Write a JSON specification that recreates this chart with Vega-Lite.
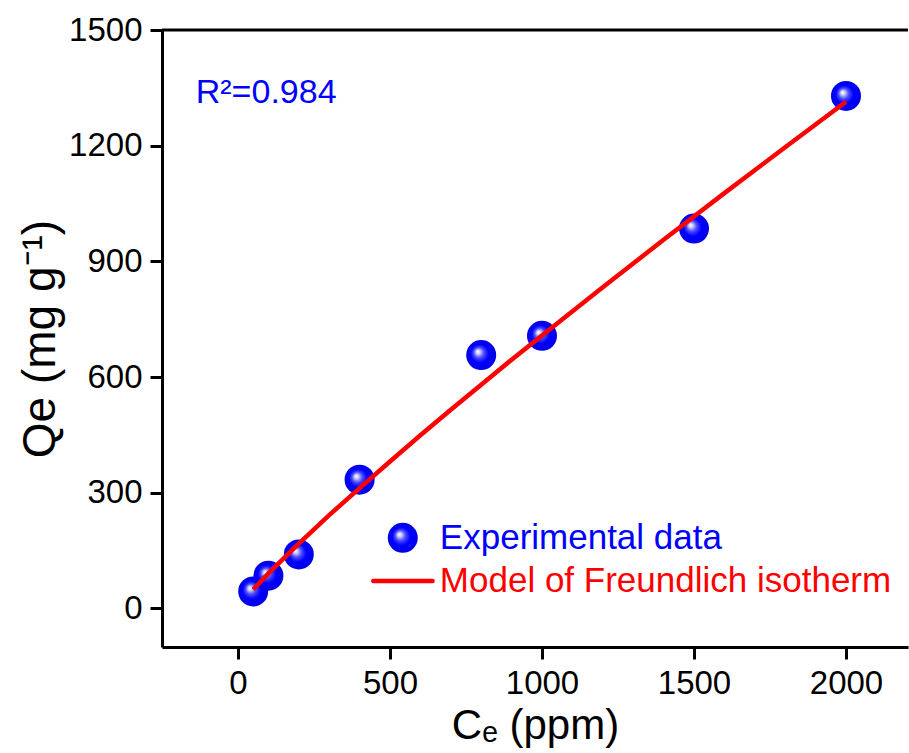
{
  "$schema": "https://vega.github.io/schema/vega-lite/v6.json",
  "autosize": {"type": "none"},
  "padding": {"left": 162, "top": 30, "right": 1, "bottom": 106},
  "width": 746,
  "height": 617,
  "background": "white",
  "config": {
    "view": {"stroke": null},
    "font": "Liberation Sans",
    "axis": {
      "domainColor": "black", "domainWidth": 3, "tickColor": "black", "tickWidth": 3, "tickSize": 12,
      "labelFont": "Liberation Sans", "labelFontSize": 33, "labelColor": "black",
      "titleFont": "Liberation Sans", "titleFontSize": 46, "titleFontWeight": "normal", "titleColor": "black",
      "grid": false
    }
  },
  "datasets": {
    "exp": [
      {"Ce": 50, "Qe": 44},
      {"Ce": 100, "Qe": 85},
      {"Ce": 200, "Qe": 140},
      {"Ce": 400, "Qe": 334},
      {"Ce": 800, "Qe": 657},
      {"Ce": 1000, "Qe": 707},
      {"Ce": 1500, "Qe": 985},
      {"Ce": 2000, "Qe": 1329}
    ],
    "model": [
      {"Ce": 50, "Qe": 49},
      {"Ce": 100, "Qe": 91},
      {"Ce": 200, "Qe": 168},
      {"Ce": 300, "Qe": 242},
      {"Ce": 400, "Qe": 312},
      {"Ce": 500, "Qe": 381},
      {"Ce": 600, "Qe": 449},
      {"Ce": 700, "Qe": 515},
      {"Ce": 800, "Qe": 580},
      {"Ce": 900, "Qe": 645},
      {"Ce": 1000, "Qe": 708},
      {"Ce": 1200, "Qe": 833},
      {"Ce": 1400, "Qe": 956},
      {"Ce": 1600, "Qe": 1077},
      {"Ce": 1800, "Qe": 1196},
      {"Ce": 2000, "Qe": 1314}
    ],
    "one": [{}]
  },
  "layer": [
    {
      "data": {"name": "exp"},
      "mark": {
        "type": "point", "filled": true, "size": 900, "opacity": 1, "strokeWidth": 0,
        "fill": {"gradient": "radial", "x1": 0.38, "y1": 0.38, "r1": 0, "x2": 0.5, "y2": 0.5, "r2": 0.5,
          "stops": [{"offset": 0, "color": "#ffffff"}, {"offset": 0.12, "color": "#d8d8ff"}, {"offset": 0.35, "color": "#4a4aff"}, {"offset": 0.6, "color": "#0000ff"}, {"offset": 1, "color": "#0000e8"}]}
      },
      "encoding": {
        "x": {"field": "Ce", "type": "quantitative",
          "scale": {"domain": [-250, 2204], "nice": false, "zero": false},
          "axis": {"values": [0, 500, 1000, 1500, 2000], "format": "d", "title": "Cₑ (ppm)", "titleFontSize": 42, "titleBaseline": "alphabetic", "titleY": 91, "labelPadding": 8}},
        "y": {"field": "Qe", "type": "quantitative",
          "scale": {"domain": [-100, 1500], "nice": false, "zero": false},
          "axis": {"values": [0, 300, 600, 900, 1200, 1500], "format": "d", "title": "Qe (mg g⁻¹)", "labelPadding": 8, "titlePadding": 4}}
      }
    },
    {
      "data": {"name": "model"},
      "mark": {"type": "line", "strokeWidth": 4.5, "color": "#ff0000"},
      "encoding": {
        "x": {"field": "Ce", "type": "quantitative"},
        "y": {"field": "Qe", "type": "quantitative"}
      }
    },
    {
      "data": {"name": "one"},
      "mark": {"type": "rule", "strokeWidth": 3, "color": "black"},
      "encoding": {"y": {"datum": 1500}}
    },
    {
      "data": {"name": "one"},
      "mark": {"type": "text", "text": "R²=0.984", "fontSize": 34, "font": "Liberation Sans", "color": "#0000ff", "align": "left", "baseline": "alphabetic"},
      "encoding": {"x": {"datum": -139}, "y": {"datum": 1311}}
    },
    {
      "data": {"name": "one"},
      "mark": {
        "type": "point", "filled": true, "size": 900, "opacity": 1, "strokeWidth": 0,
        "fill": {"gradient": "radial", "x1": 0.38, "y1": 0.38, "r1": 0, "x2": 0.5, "y2": 0.5, "r2": 0.5,
          "stops": [{"offset": 0, "color": "#ffffff"}, {"offset": 0.12, "color": "#d8d8ff"}, {"offset": 0.35, "color": "#4a4aff"}, {"offset": 0.6, "color": "#0000ff"}, {"offset": 1, "color": "#0000e8"}]}
      },
      "encoding": {"x": {"datum": 542}, "y": {"datum": 183}}
    },
    {
      "data": {"name": "one"},
      "mark": {"type": "rule", "strokeWidth": 4.5, "color": "#ff0000", "strokeCap": "round"},
      "encoding": {"x": {"datum": 445}, "x2": {"datum": 640}, "y": {"datum": 71}}
    },
    {
      "data": {"name": "one"},
      "mark": {"type": "text", "text": "Experimental data", "fontSize": 35, "font": "Liberation Sans", "color": "#0000ff", "align": "left", "baseline": "middle"},
      "encoding": {"x": {"datum": 664}, "y": {"datum": 183}}
    },
    {
      "data": {"name": "one"},
      "mark": {"type": "text", "text": "Model of Freundlich isotherm", "fontSize": 35, "font": "Liberation Sans", "color": "#ff0000", "align": "left", "baseline": "middle"},
      "encoding": {"x": {"datum": 664}, "y": {"datum": 71}}
    }
  ]
}
